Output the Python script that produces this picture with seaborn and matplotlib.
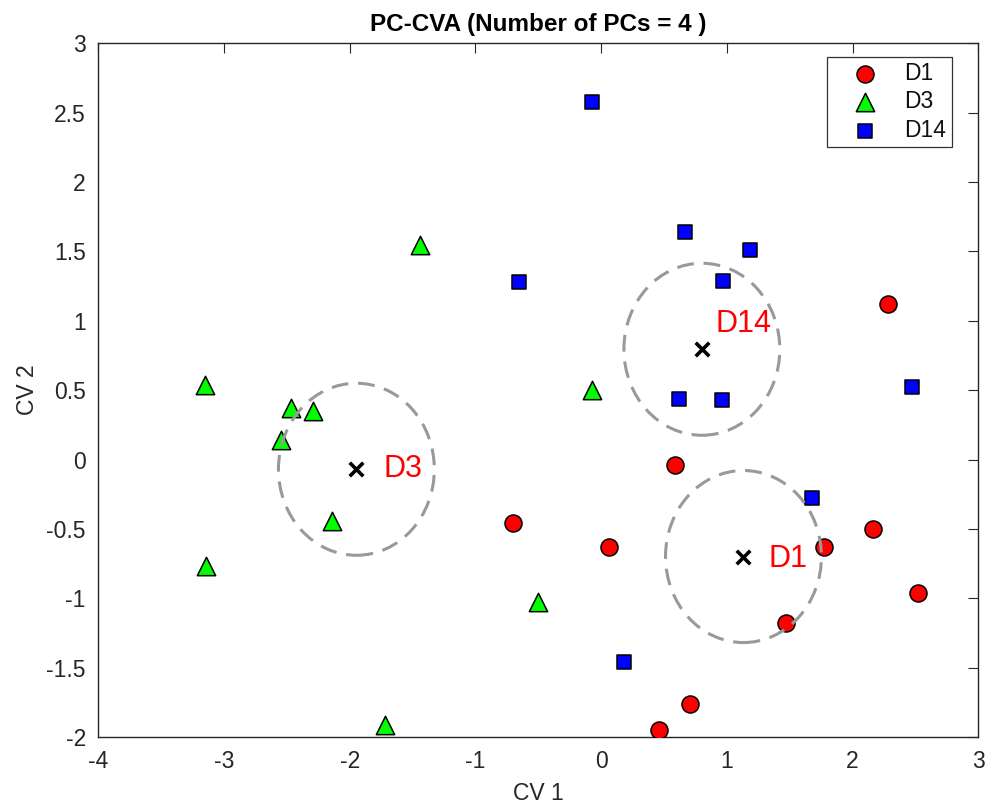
import pandas as pd
import matplotlib.pyplot as plt
import seaborn as sns
from matplotlib.patches import Circle

# CV scores
d1_x = [2.28, -0.70, 0.59, 0.06, 1.77, 2.16, 2.52, 1.47, 0.71, 0.46]
d1_y = [1.12, -0.46, -0.04, -0.63, -0.63, -0.50, -0.96, -1.18, -1.76, -1.95]

d3_x = [-1.44, -3.15, -2.47, -2.29, -2.55, -2.14, -3.14, -1.72, -0.50, -0.07]
d3_y = [1.55, 0.54, 0.37, 0.35, 0.14, -0.44, -0.77, -1.91, -1.03, 0.50]

d14_x = [-0.07, 0.67, 1.18, 0.97, -0.65, 0.62, 0.96, 2.47, 1.68, 0.18]
d14_y = [2.58, 1.64, 1.51, 1.29, 1.28, 0.44, 0.43, 0.52, -0.28, -1.46]

groups = ['D1', 'D3', 'D14']
radius = [0.62, 0.62, 0.62]

df = pd.concat([
    pd.DataFrame({'CV1': d1_x, 'CV2': d1_y, 'group': 'D1'}),
    pd.DataFrame({'CV1': d3_x, 'CV2': d3_y, 'group': 'D3'}),
    pd.DataFrame({'CV1': d14_x, 'CV2': d14_y, 'group': 'D14'}),
])

sns.set_style('white')
plt.rcParams['font.family'] = ['Liberation Sans', 'DejaVu Sans']

colors = {'D1': '#ff0000', 'D3': '#00ff00', 'D14': '#0000ff'}
markers = {'D1': 'o', 'D3': '^', 'D14': 's'}
msize = {'D1': 150, 'D3': 175, 'D14': 95}
# where each centroid label sits, in points from the cross
label_off = {'D1': (18, -1.5), 'D3': (19.5, 0), 'D14': (9.5, 18.5)}

fig = plt.figure(figsize=(9.87, 8.07), dpi=100)
ax = fig.add_axes([0.0996, 0.0867, 0.8916, 0.8596])

for g in groups:
    sub = df[df['group'] == g]
    sns.scatterplot(data=sub, x='CV1', y='CV2', ax=ax, color=colors[g],
                    marker=markers[g], s=msize[g], edgecolor='black',
                    linewidth=1.1, label=g, zorder=3)

cent = df.groupby('group')[['CV1', 'CV2']].mean()
for g, r in zip(groups, radius):
    cx, cy = cent.loc[g, 'CV1'], cent.loc[g, 'CV2']
    ax.add_patch(Circle((cx, cy), r, fill=False, edgecolor='#999999',
                        linewidth=2.2, linestyle=(0, (5.5, 3.2)), zorder=4))
    ax.scatter([cx], [cy], marker='x', color='black', s=95, linewidths=2.6, zorder=5)
    ax.annotate(g, (cx, cy), xytext=label_off[g], textcoords='offset points',
                color='#ff0000', fontsize=22, ha='left', va='center', zorder=6)

ax.set_xlim(-4, 3)
ax.set_ylim(-2, 3)
ax.set_xticks(range(-4, 4))
ax.set_yticks([-2, -1.5, -1, -0.5, 0, 0.5, 1, 1.5, 2, 2.5, 3])
ax.set_yticklabels(['-2', '-1.5', '-1', '-0.5', '0', '0.5', '1', '1.5', '2', '2.5', '3'])
ax.set_xticklabels([str(v) for v in range(-4, 4)])
ax.tick_params(direction='in', length=7, width=0.8, top=True, right=True,
               labelsize=16.5, colors='#262626', pad=9)
for sp in ax.spines.values():
    sp.set_color('#262626')
    sp.set_linewidth(1.0)

ax.set_xlabel('CV 1', fontsize=16.5, color='#262626', labelpad=7)
ax.set_ylabel('CV 2', fontsize=16.5, color='#262626', labelpad=5)
ax.set_title('PC-CVA (Number of PCs = 4 )', fontsize=17.5, fontweight='bold',
             color='black', pad=9)

leg = ax.legend(loc='upper right', bbox_to_anchor=(0.9698, 0.9807), borderaxespad=0,
                fontsize=16.5, frameon=True, fancybox=False, edgecolor='black',
                borderpad=0.25, handlelength=2.8, handletextpad=0.3, labelspacing=0.22)
leg.get_frame().set_linewidth(0.9)
for t in leg.get_texts():
    t.set_color('#111111')

plt.savefig('out.png', dpi=100)
